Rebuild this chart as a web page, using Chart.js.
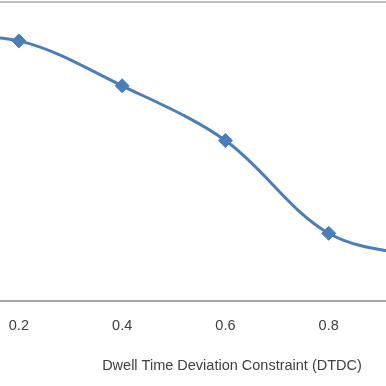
<!DOCTYPE html>
<html>
<head>
<meta charset="utf-8">
<script src="https://cdn.jsdelivr.net/npm/chart.js@4.4.0/dist/chart.umd.min.js"></script>
<style>
  html, body { margin: 0; padding: 0; background: #fff; }
  body { width: 386px; height: 386px; overflow: hidden; position: relative; }
  /* the reference is a crop of a wider chart, so the canvas sticks out on the left, right and top */
  #wrap { position: absolute; left: -100px; top: -6px; width: 664px; height: 392px; }
</style>
</head>
<body>
<div id="wrap"><canvas id="dtdcChart"></canvas></div>
<script>
  // DTDC values (x) and the plotted series (y)
  const dtdcValues = [0, 0.2, 0.4, 0.6, 0.8, 1.0];
  const seriesValues = [88.0, 87.0, 72.0, 53.7, 22.7, 14.0];
  const xTickLabels = ["0.2", "0.4", "0.6", "0.8"];

  const xMin = 0;
  const xMax = 1.2255;
  const yMin = 0;
  const yMax = 100;

  const blue = "#4a7ebb";
  const textColor = "#404040";
  const fontFamily = "'Liberation Sans', Arial, sans-serif";

  const points = dtdcValues.map((x, i) => ({ x: x, y: seriesValues[i] }));

  new Chart(document.getElementById("dtdcChart").getContext("2d"), {
    type: "line",
    data: {
      datasets: [
        {
          label: "DTDC",
          data: points,
          borderColor: blue,
          backgroundColor: blue,
          borderWidth: 3,
          tension: 0.34, // close to Excel's smoothed line
          fill: false,
          pointStyle: "rectRot",
          pointRadius: 7,
          pointBorderWidth: 1,
          pointBorderColor: blue,
          pointBackgroundColor: blue,
        },
      ],
    },
    options: {
      responsive: true,
      maintainAspectRatio: false,
      animation: false,
      layout: { padding: { top: -5, left: 0, right: 0, bottom: 0 } },
      plugins: {
        legend: { display: false },
        tooltip: { enabled: false },
      },
      scales: {
        x: {
          type: "linear",
          min: xMin,
          max: xMax,
          grid: { display: false, drawTicks: false },
          border: { display: true, color: "#a6a6a6", width: 2 },
          ticks: {
            stepSize: 0.2,
            padding: 15.6,
            maxRotation: 0,
            color: textColor,
            font: { family: fontFamily, size: 14.5 },
            callback: function (value) {
              const label = value.toFixed(1);
              return xTickLabels.includes(label) ? label : "";
            },
          },
          title: {
            display: true,
            text: "Dwell Time Deviation Constraint (DTDC)",
            color: textColor,
            font: { family: fontFamily, size: 14.5 },
            padding: { top: 7.2, bottom: 11.6 },
          },
        },
        y: {
          min: yMin,
          max: yMax,
          grid: { color: "#c0c0c0", lineWidth: 2, drawTicks: false },
          border: { display: false },
          ticks: { display: false, stepSize: 100 },
        },
      },
    },
  });
</script>
</body>
</html>
